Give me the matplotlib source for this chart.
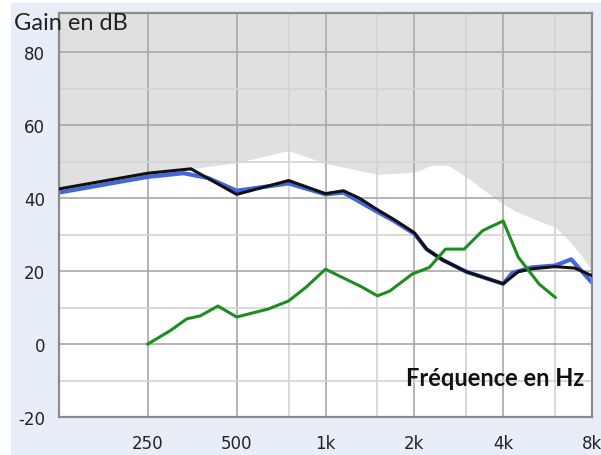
"""Hearing-aid gain curves (target, measured, reserve) on an audiogram-style grid."""
import matplotlib.pyplot as plt
from matplotlib.patches import Rectangle
from matplotlib.ticker import FixedLocator, NullFormatter

plt.rcParams["axes.unicode_minus"] = False

# ---- data (Hz, dB) ----
target_f = [125, 250, 350, 500, 750, 1000, 1150, 1300, 1500, 1700, 2000,
            2200, 2500, 3000, 4000, 4500, 5000, 6000, 7000, 8000]
target_db = [42.5, 46.8, 48.0, 41.0, 44.8, 41.2, 42.0, 40.0, 36.8, 34.2, 30.5,
             26.0, 23.0, 19.8, 16.5, 19.8, 20.6, 21.2, 20.8, 18.7]

measured_f = [125, 250, 330, 400, 500, 750, 1000, 1150, 1500, 1700, 2000,
              2200, 2500, 3000, 4000, 4300, 5000, 6000, 6800, 8000]
measured_db = [41.5, 45.8, 46.8, 45.5, 42.0, 44.0, 41.0, 41.5, 36.2, 33.8, 30.2,
               26.0, 23.0, 19.8, 16.5, 19.5, 21.0, 21.5, 23.2, 16.8]

reserve_f = [250, 297, 339, 376, 432, 500, 640, 750, 860, 1000, 1170, 1330,
             1500, 1650, 1970, 2250, 2550, 2950, 3400, 3600, 4000, 4500, 5300, 6000]
reserve_db = [0.0, 3.6, 6.9, 7.7, 10.4, 7.4, 9.6, 11.8, 15.6, 20.5, 17.8, 15.6,
              13.2, 14.5, 19.2, 21.0, 26.0, 26.0, 31.0, 32.0, 33.7, 23.8, 16.4, 12.8]

# upper limit of available gain; shaded above
limit_f = [125, 250, 350, 500, 750, 1000, 1500, 2000, 2300, 2600, 3000,
           3900, 4400, 5300, 6000, 6600, 7400, 8000]
limit_db = [42.5, 46.8, 48.0, 49.7, 53.0, 49.5, 46.5, 47.1, 49.0, 49.0, 45.8,
            38.9, 36.4, 33.7, 32.0, 28.8, 24.1, 20.0]

x_major = [250, 500, 1000, 2000, 4000, 8000]
x_labels = ["250", "500", "1k", "2k", "4k", "8k"]
x_minor = [750, 1500, 3000, 6000]
y_major = [-20, 0, 20, 40, 60, 80]
y_minor = [-10, 10, 30, 50, 70]

W, H = 601, 456
fig = plt.figure(figsize=(W / 100, H / 100), dpi=100, facecolor="white")
fig.patches.append(Rectangle((11 / W, 0), 1, (H - 4) / H, transform=fig.transFigure,
                             facecolor="#e8eef8", edgecolor="none", zorder=-10))

ax = fig.add_axes([59 / W, (H - 418) / H, (592 - 59) / W, (418 - 14) / H])
ax.set_facecolor("white")
ax.set_xscale("log")
ax.set_xlim(125, 8000)
ax.set_ylim(-20, 90.7)

ax.fill_between(limit_f, limit_db, 100, color="#e0e0e0", lw=0, zorder=0.3)

ax.plot(measured_f, measured_db, color="#4466dd", lw=3.0, solid_joinstyle="round", zorder=2)
ax.plot(target_f, target_db, color="#111111", lw=2.2, solid_joinstyle="round", zorder=3)
ax.plot(reserve_f, reserve_db, color="#1e8c1e", lw=2.2, solid_joinstyle="round", zorder=3)

ax.xaxis.set_major_locator(FixedLocator(x_major))
ax.xaxis.set_minor_locator(FixedLocator(x_minor))
ax.xaxis.set_minor_formatter(NullFormatter())
ax.set_xticklabels(x_labels)
ax.yaxis.set_major_locator(FixedLocator(y_major))
ax.yaxis.set_minor_locator(FixedLocator(y_minor))

ax.set_axisbelow(True)
ax.grid(which="major", color="#a8a8a8", lw=1.2)
ax.grid(which="minor", color="#d2d2d2", lw=1.2)

ax.tick_params(which="both", length=0)
ax.tick_params(axis="y", pad=10, labelsize=12, labelcolor="#222222")
ax.tick_params(axis="x", pad=12.5, labelsize=12, labelcolor="#222222")

for s in ax.spines.values():
    s.set_color("#8c8c8c")
    s.set_linewidth(1.6)

fig.text(14 / W, 1 - 30 / H, "Gain en dB", family="Lato", fontsize=17,
         color="#222222", ha="left", va="baseline")
ax.text(0.985, 0.08, "Fréquence en Hz", transform=ax.transAxes, family="Lato",
        fontweight="bold", fontsize=17, color="#111111", ha="right", va="baseline")

fig.savefig("out.png", dpi=100)
